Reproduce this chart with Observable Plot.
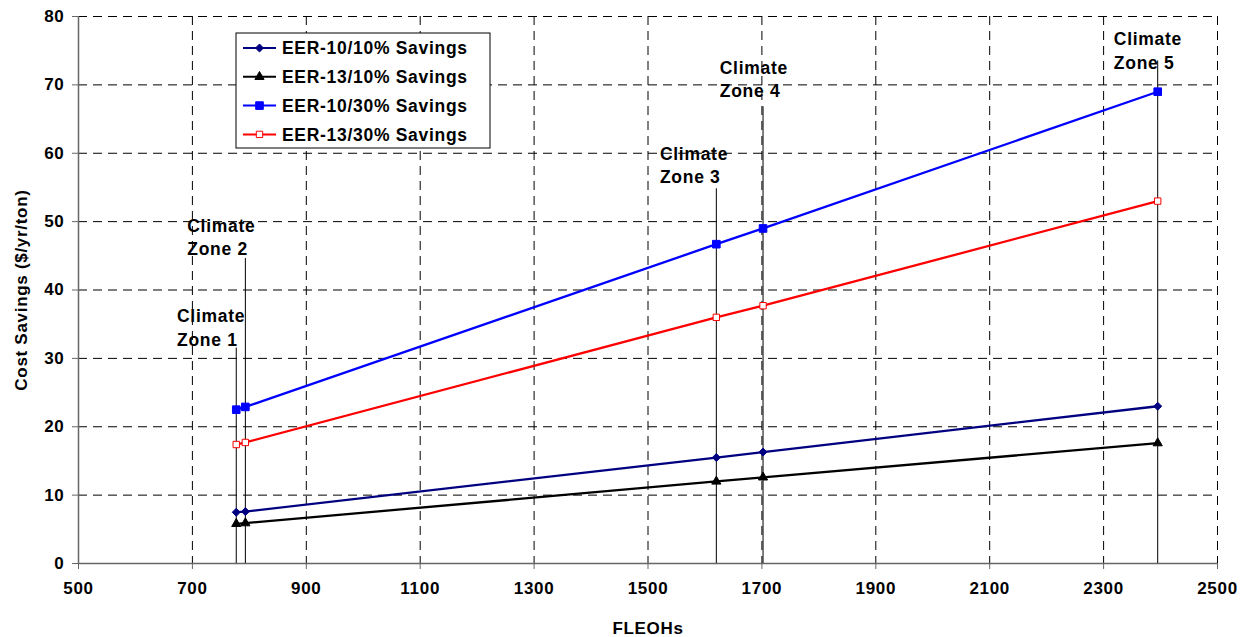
<!DOCTYPE html>
<html>
<head>
<meta charset="utf-8">
<script src="https://cdn.jsdelivr.net/npm/d3@7"></script>
<script src="https://cdn.jsdelivr.net/npm/@observablehq/plot@0.6"></script>
<style>
  body { margin: 0; background: #fff; }
  #chart { position: relative; width: 1249px; height: 637px; }
</style>
</head>
<body>
<div id="chart"></div>
<script>
// ---- data ----
const fleoh = [777, 793, 1620, 1702, 2395];
const zoneNames = ["Climate\nZone 1", "Climate\nZone 2", "Climate\nZone 3", "Climate\nZone 4", "Climate\nZone 5"];
const zoneLineTop = [31.5, 44.6, 54.8, 66.8, 73.5];
const zoneLabelX = [673, 691, 1521, 1626, 2318];
const zoneLabelY = [37.7, 50.9, 61.5, 74.0, 78.2];

const seriesNames = ["EER-10/10% Savings", "EER-13/10% Savings", "EER-10/30% Savings", "EER-13/30% Savings"];
const eer10_10 = [7.5, 7.6, 15.5, 16.3, 23.0];
const eer13_10 = [5.8, 5.9, 12.0, 12.6, 17.6];
const eer10_30 = [22.5, 22.9, 46.7, 49.0, 69.0];
const eer13_30 = [17.4, 17.7, 36.0, 37.7, 53.0];

const xTicks = [500, 700, 900, 1100, 1300, 1500, 1700, 1900, 2100, 2300, 2500];
const yTicks = [0, 10, 20, 30, 40, 50, 60, 70, 80];

// ---- styles ----
const styles = [
  {stroke: "#000080", fill: "#000080", symbol: "diamond2", r: 3.6},
  {stroke: "#000000", fill: "#000000", symbol: "triangle", r: 3.4},
  {stroke: "#0000ff", fill: "#0000ff", symbol: "square", r: 4.3},
  {stroke: "#ff0000", fill: "#ffffff", symbol: "square", r: 3.6}
];
const allSeries = [eer10_10, eer13_10, eer10_30, eer13_30];

const rows = [];
allSeries.forEach((vals, i) => vals.forEach((v, j) => rows.push({series: seriesNames[i], idx: i, x: fleoh[j], y: v})));
const zones = fleoh.map((x, i) => ({x, top: zoneLineTop[i], name: zoneNames[i], lx: zoneLabelX[i], ly: zoneLabelY[i]}));

const marks = [
  Plot.gridY(yTicks, {stroke: "#000", strokeOpacity: 1, strokeDasharray: "9,6"}),
  Plot.gridX(xTicks, {stroke: "#000", strokeOpacity: 1, strokeDasharray: "9,6"}),
  Plot.ruleY([0], {stroke: "#666", strokeWidth: 1.5}),
  Plot.ruleX([500], {stroke: "#666", strokeWidth: 1.5}),
  Plot.axisX(xTicks, {tickSize: 6, tickPadding: 12, tickFormat: d => String(d), label: "FLEOHs", labelArrow: "none", labelAnchor: "center", labelOffset: 70, stroke: "#666"}),
  Plot.axisY(yTicks, {tickSize: 6, tickPadding: 8, label: "Cost Savings ($/yr/ton)", labelArrow: "none", labelAnchor: "center", labelOffset: 64, stroke: "#666"}),
  Plot.ruleX(zones, {x: "x", y1: 0, y2: "top", stroke: "#000", strokeWidth: 1})
];
styles.forEach((s, i) => {
  const d = rows.filter(r => r.idx === i);
  marks.push(Plot.line(d, {x: "x", y: "y", stroke: s.stroke, strokeWidth: 2.3}));
});
styles.forEach((s, i) => {
  const d = rows.filter(r => r.idx === i);
  marks.push(Plot.dot(d, {x: "x", y: "y", symbol: () => s.symbol, r: s.r, fill: s.fill, stroke: s.stroke, strokeWidth: 1}));
});
marks.push(Plot.text(zones, {x: "lx", y: "ly", text: "name", textAnchor: "start", lineAnchor: "top", lineHeight: 1.33, fontSize: 17.5, fontWeight: "bold", fill: "#000"}));

const plot = Plot.plot({
  width: 1249,
  height: 637,
  marginLeft: 78,
  marginRight: 32,
  marginTop: 16,
  marginBottom: 74,
  x: {domain: [500, 2500]},
  y: {domain: [0, 80]},
  style: {fontFamily: "'Liberation Sans', Arial, sans-serif", fontWeight: "bold", fontSize: "17px", letterSpacing: "0.7px", color: "#000", background: "#fff"},
  marks
});
document.getElementById("chart").appendChild(plot);

// ---- legend (inside plot area, drawn into the svg) ----
const svg = d3.select(plot);
const lg = svg.append("g").attr("transform", "translate(236,33)");
lg.append("rect").attr("width", 254).attr("height", 115).attr("fill", "#fff").attr("stroke", "#000").attr("stroke-width", 1);
const symMap = {diamond2: d3.symbolDiamond2, triangle: d3.symbolTriangle, square: d3.symbolSquare};
seriesNames.forEach((name, i) => {
  const s = styles[i];
  const cy = 15 + i * 28.8;
  const g = lg.append("g").attr("transform", `translate(0,${cy})`);
  g.append("line").attr("x1", 7).attr("x2", 40).attr("y1", 0).attr("y2", 0).attr("stroke", s.stroke).attr("stroke-width", 2);
  g.append("path").attr("transform", "translate(23.5,0)")
    .attr("d", d3.symbol(symMap[s.symbol], Math.PI * s.r * s.r)())
    .attr("fill", s.fill).attr("stroke", s.stroke);
  g.append("text").attr("x", 46).attr("y", 0).attr("dy", "0.35em").attr("text-anchor", "start")
    .attr("font-size", 17.5).attr("font-weight", "bold").attr("fill", "#000").text(name);
});
</script>
</body>
</html>
